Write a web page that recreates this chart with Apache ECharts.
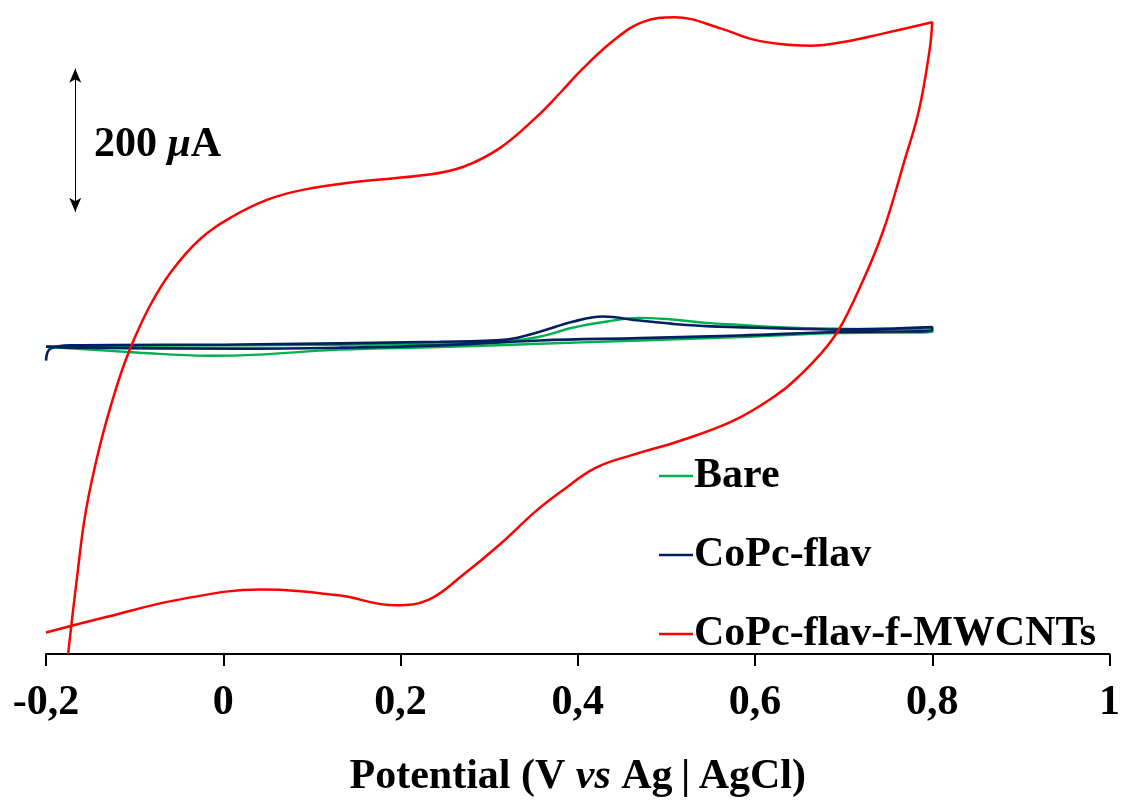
<!DOCTYPE html>
<html>
<head>
<meta charset="utf-8">
<script src="https://cdn.jsdelivr.net/npm/echarts@6/dist/echarts.min.js"></script>
<style>
    html, body { margin: 0; padding: 0; background: #fff; }
    #Chart_1 { width: 1123px; height: 803px; }
</style>
</head>
<body>
<div id="Chart_1"></div>
<script>
// potential (V) / current (uA)
var bareV = [-0.2, 0.019, 0.244, 0.320, 0.357, 0.394, 0.433, 0.470, 0.507, 0.545, 0.583, 0.620, 0.695, 0.8,
             0.8, 0.695, 0.583, 0.470, 0.357, 0.244, 0.132, 0.019, -0.018, -0.094, -0.2];
var bareI = [0, 1.5, 3.6, 6.8, 13.3, 25.9, 34.6, 39.8, 37.4, 32.8, 30.0, 27.2, 24.5, 23.1,
             19.9, 18.5, 12.9, 8.2, 3.6, -1.0, -4.7, -12.6, -13.1, -8.9, -0.6];

var flavV = [-0.2, -0.195, -0.170, 0.019, 0.244, 0.320, 0.357, 0.394, 0.428, 0.470, 0.507, 0.545, 0.620, 0.695, 0.8,
             0.8, 0.695, 0.583, 0.470, 0.357, 0.244, 0.132, 0.019, -0.170, -0.2];
var flavI = [-20, -3.3, 1.3, 2.6, 6.4, 9.6, 20.3, 34.2, 41.6, 36.0, 31.4, 28.2, 25.4, 23.5, 26.8,
             22.1, 19.9, 15.2, 11.5, 8.2, 1.3, -1.9, -3.3, -1.9, -0.6];

var mwcntV = [-0.175, -0.165, -0.155, -0.139, -0.121, -0.105, -0.083, -0.059, -0.026, 0.010, 0.050, 0.091, 0.151,
              0.232, 0.271, 0.312, 0.353, 0.380, 0.404, 0.441, 0.473, 0.509, 0.562, 0.594, 0.631, 0.663, 0.703, 0.744, 0.8,
              0.797, 0.785, 0.769, 0.744, 0.716, 0.688, 0.647, 0.622, 0.574, 0.513, 0.461, 0.420, 0.380, 0.353,
              0.312, 0.271, 0.232, 0.194, 0.130, 0.042, -0.050, -0.131, -0.2];
var mwcntI = [-430, -323, -230, -138, -59, -3, 56, 104, 150, 181, 205, 219, 230,
              240, 251, 277, 320, 354, 386, 428, 453, 460, 444, 430, 422, 420, 426, 437, 453,
              414, 330, 261, 159, 76, 11, -45, -70, -105, -133, -152, -170, -204, -230,
              -277, -319, -354, -362, -348, -340, -354, -378, -400];

var xTicks = [-0.2, 0, 0.2, 0.4, 0.6, 0.8, 1];

function zip(xs, ys) {
    var out = [];
    for (var i = 0; i < xs.length; i++) out.push([xs[i], ys[i]]);
    return out;
}

var serif = 'Liberation Serif';
var chart1 = echarts.init(document.getElementById('Chart_1'));

var option1 = {
    backgroundColor: '#ffffff',
    animation: false,
    grid: {
        left: 46,
        right: 13,
        top: 10,
        bottom: 146
    },
    legend: {
        orient: 'vertical',
        left: 654,
        top: 450,
        itemGap: 37,
        itemWidth: 34,
        itemHeight: 2.5,
        icon: 'rect',
        textStyle: {
            fontFamily: serif,
            fontWeight: 'bold',
            fontSize: 42,
            lineHeight: 40,
            color: '#000',
            padding: [0, 0, 0, -4]
        },
        data: ['Bare', 'CoPc-flav', 'CoPc-flav-f-MWCNTs']
    },
    xAxis: {
        type: 'value',
        min: xTicks[0],
        max: xTicks[xTicks.length - 1],
        interval: 0.2,
        name: 'Potential (V {i|vs} Ag\u2009|\u2009AgCl)',
        nameLocation: 'middle',
        nameGap: 102,
        nameTextStyle: {
            fontFamily: serif,
            fontWeight: 'bold',
            fontSize: 42,
            color: '#000',
            rich: {
                i: {fontFamily: serif, fontWeight: 'bold', fontStyle: 'italic', fontSize: 42, color: '#000'}
            }
        },
        axisLine: {onZero: false, lineStyle: {color: '#000', width: 2}},
        axisTick: {show: true, length: 12, lineStyle: {color: '#000', width: 2}},
        splitLine: {show: false},
        axisLabel: {
            margin: 28,
            fontFamily: serif,
            fontWeight: 'bold',
            fontSize: 42,
            color: '#000',
            formatter: function (v) {
                return String(+v.toFixed(1)).replace('.', ',');
            }
        }
    },
    yAxis: {
        type: 'value',
        show: false,
        min: -430,
        max: 470
    },
    graphic: [
        {
            type: 'text',
            left: 94,
            top: 124,
            style: {
                text: '200 {i|μ}A',
                font: 'bold 42px ' + serif,
                fill: '#000',
                rich: {
                    i: {fontFamily: serif, fontWeight: 'bold', fontStyle: 'italic', fontSize: 42, fill: '#000'}
                }
            }
        }
    ],
    series: [
        {
            name: 'Bare',
            type: 'line',
            smooth: 0.4,
            showSymbol: false,
            symbol: 'none',
            color: '#00b050',
            lineStyle: {color: '#00b050', width: 2.4},
            data: zip(bareV, bareI)
        },
        {
            name: 'CoPc-flav',
            type: 'line',
            smooth: 0.4,
            showSymbol: false,
            symbol: 'none',
            color: '#002060',
            lineStyle: {color: '#002060', width: 2.6},
            data: zip(flavV, flavI)
        },
        {
            name: 'CoPc-flav-f-MWCNTs',
            type: 'line',
            smooth: 0.4,
            showSymbol: false,
            symbol: 'none',
            color: '#ff0000',
            lineStyle: {color: '#ff0000', width: 2.5},
            data: zip(mwcntV, mwcntI),
            markLine: {
                silent: true,
                symbol: ['arrow', 'arrow'],
                symbolSize: [9, 14],
                label: {show: false},
                lineStyle: {color: '#000', width: 1, type: 'solid'},
                data: [[{coord: [-0.167, 188]}, {coord: [-0.167, 388]}]]
            }
        }
    ]
};
chart1.setOption(option1);
</script>
</body>
</html>
